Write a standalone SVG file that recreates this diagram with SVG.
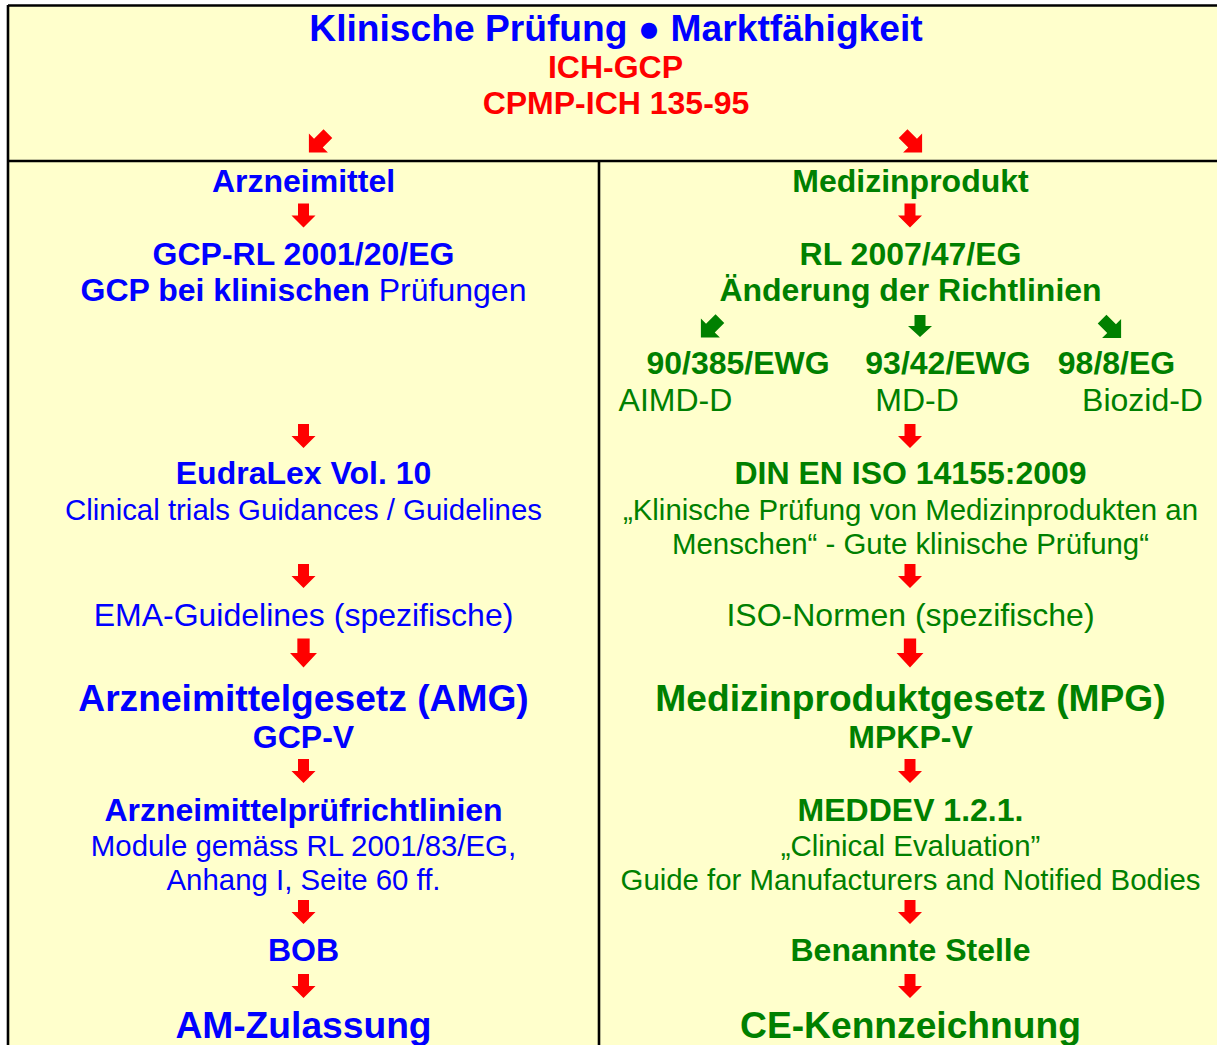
<svg xmlns="http://www.w3.org/2000/svg" xmlns:xlink="http://www.w3.org/1999/xlink" width="1217" height="1045" viewBox="0 0 1217 1045">
  <style>
    text { font-family: "Liberation Sans", Arial, sans-serif; text-anchor: middle; }
    .b { font-weight: bold; }
    .xl { font-size: 37.2px; }
    .md { font-size: 32px; }
    .sm { font-size: 29.4px; }
    .blue { fill: #0000FF; }
    .green { fill: #008000; }
    .red { fill: #FF0000; }
    .frame { stroke: #000; stroke-width: 2.6; fill: none; }
    .ar-red { fill: #FF0000; }
    .ar-green { fill: #008000; }
  </style>
  <defs>
    <!-- block arrow pointing down, centred on the origin -->
    <path id="arrow" d="M-5.5,-12 H5.5 V0 H12 L0,12 L-12,0 H-5.5 Z"/>
  </defs>

  <!-- table background and rules -->
  <rect x="8" y="5" width="1215" height="1045" fill="#FFFFCC"/>
  <g id="frame">
    <path class="frame" d="M8,5.5 H1220 M8,5 V1045 M8,161 H1220 M599,161 V1045"/>
  </g>

  <!-- header -->
  <g id="header">
    <text class="b xl blue" x="616" y="41">Klinische Prüfung ● Marktfähigkeit</text>
    <text class="b md red" x="615.5" y="78">ICH-GCP</text>
    <text class="b md red" x="616" y="114">CPMP-ICH 135-95</text>
  </g>

  <!-- left column: Arzneimittel -->
  <g id="am-head"><text class="b md blue" x="303.5" y="192">Arzneimittel</text></g>
  <g id="am-gcp-rl">
    <text class="b md blue" x="303.5" y="264.5">GCP-RL 2001/20/EG</text>
    <text class="md blue" x="303.5" y="301"><tspan class="b">GCP bei klinischen</tspan> Prüfungen</text>
  </g>
  <g id="am-eudralex">
    <text class="b md blue" x="303.5" y="484">EudraLex Vol. 10</text>
    <text class="sm blue" x="303.5" y="519.5">Clinical trials Guidances / Guidelines</text>
  </g>
  <g id="am-ema"><text class="md blue" x="303.5" y="625.5">EMA-Guidelines (spezifische)</text></g>
  <g id="am-amg">
    <text class="b xl blue" x="303.5" y="711">Arzneimittelgesetz (AMG)</text>
    <text class="b md blue" x="303.5" y="748">GCP-V</text>
  </g>
  <g id="am-pruefrl">
    <text class="b md blue" x="303.5" y="821">Arzneimittelprüfrichtlinien</text>
    <text class="sm blue" x="303.5" y="855.5">Module gemäss RL 2001/83/EG,</text>
    <text class="sm blue" x="303.5" y="889.5">Anhang I, Seite 60 ff.</text>
  </g>
  <g id="am-bob"><text class="b md blue" x="303.5" y="961">BOB</text></g>
  <g id="am-zulassung"><text class="b xl blue" x="303.5" y="1038">AM-Zulassung</text></g>

  <!-- right column: Medizinprodukt -->
  <g id="mp-head"><text class="b md green" x="910.5" y="192">Medizinprodukt</text></g>
  <g id="mp-rl">
    <text class="b md green" x="910.5" y="264.5">RL 2007/47/EG</text>
    <text class="b md green" x="910.5" y="301">Änderung der Richtlinien</text>
  </g>
  <g id="mp-aimd">
    <text class="b md green" x="738" y="374">90/385/EWG</text>
    <text class="md green" x="675.5" y="411">AIMD-D</text>
  </g>
  <g id="mp-md">
    <text class="b md green" x="948" y="374">93/42/EWG</text>
    <text class="md green" x="917" y="411">MD-D</text>
  </g>
  <g id="mp-biozid">
    <text class="b md green" x="1116.5" y="374">98/8/EG</text>
    <text class="md green" x="1142.5" y="411">Biozid-D</text>
  </g>
  <g id="mp-iso14155">
    <text class="b md green" x="910.5" y="484">DIN EN ISO 14155:2009</text>
    <text class="sm green" x="910.5" y="519.5">„Klinische Prüfung von Medizinprodukten an</text>
    <text class="sm green" x="910.5" y="553.5">Menschen“ - Gute klinische Prüfung“</text>
  </g>
  <g id="mp-iso"><text class="md green" x="910.5" y="625.5">ISO-Normen (spezifische)</text></g>
  <g id="mp-mpg">
    <text class="b xl green" x="910.5" y="711">Medizinproduktgesetz (MPG)</text>
    <text class="b md green" x="910.5" y="748">MPKP-V</text>
  </g>
  <g id="mp-meddev">
    <text class="b md green" x="910.5" y="821">MEDDEV 1.2.1.</text>
    <text class="sm green" x="910.5" y="855.5">„Clinical Evaluation”</text>
    <text class="sm green" x="910.5" y="889.5">Guide for Manufacturers and Notified Bodies</text>
  </g>
  <g id="mp-stelle"><text class="b md green" x="910.5" y="961">Benannte Stelle</text></g>
  <g id="mp-ce"><text class="b xl green" x="910.5" y="1038">CE-Kennzeichnung</text></g>

  <!-- connectors -->
  <g id="connectors">
    <g class="ar-red">
      <use xlink:href="#arrow" href="#arrow" transform="translate(318.4,143.1) rotate(45) scale(1.12)"/>
      <use xlink:href="#arrow" href="#arrow" transform="translate(912.6,143.1) rotate(-45) scale(1.12)"/>

      <use xlink:href="#arrow" href="#arrow" transform="translate(303.5,215.5)"/>
      <use xlink:href="#arrow" href="#arrow" transform="translate(303.5,436)"/>
      <use xlink:href="#arrow" href="#arrow" transform="translate(303.5,576)"/>
      <use xlink:href="#arrow" href="#arrow" transform="translate(303.5,653) scale(1.12,1.2)"/>
      <use xlink:href="#arrow" href="#arrow" transform="translate(303.5,771)"/>
      <use xlink:href="#arrow" href="#arrow" transform="translate(303.5,912)"/>
      <use xlink:href="#arrow" href="#arrow" transform="translate(303.5,986)"/>

      <use xlink:href="#arrow" href="#arrow" transform="translate(910,215.5)"/>
      <use xlink:href="#arrow" href="#arrow" transform="translate(910,436)"/>
      <use xlink:href="#arrow" href="#arrow" transform="translate(910,576)"/>
      <use xlink:href="#arrow" href="#arrow" transform="translate(910,653) scale(1.12,1.2)"/>
      <use xlink:href="#arrow" href="#arrow" transform="translate(910,771)"/>
      <use xlink:href="#arrow" href="#arrow" transform="translate(910,912)"/>
      <use xlink:href="#arrow" href="#arrow" transform="translate(910,986)"/>
    </g>
    <g class="ar-green">
      <use xlink:href="#arrow" href="#arrow" transform="translate(710.4,328.1) rotate(45) scale(1.12)"/>
      <use xlink:href="#arrow" href="#arrow" transform="translate(920,326) scale(1,0.92)"/>
      <use xlink:href="#arrow" href="#arrow" transform="translate(1111.6,328.6) rotate(-45) scale(1.12)"/>
    </g>
  </g>
</svg>
